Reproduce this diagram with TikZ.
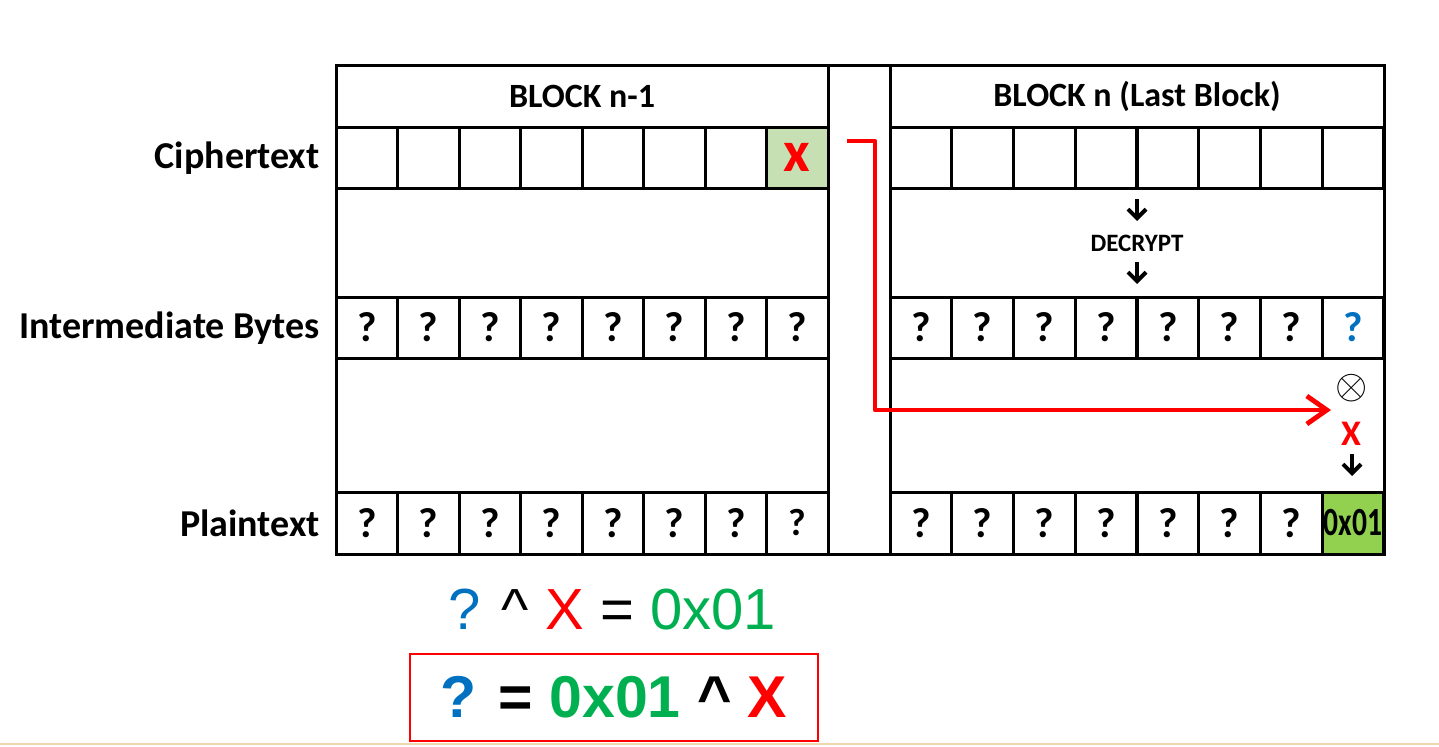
\documentclass[tikz,border=0pt]{standalone}
\usepackage{fontspec}
\setmainfont{Carlito}
\newfontfamily\arialfont{Liberation Sans}
\usetikzlibrary{arrows.meta,positioning}
\definecolor{qblue}{RGB}{0,112,192}
\definecolor{qgreen}{RGB}{0,176,80}
\definecolor{xred}{RGB}{255,0,0}
\definecolor{lightcell}{RGB}{198,224,180}
\definecolor{greencell}{RGB}{146,208,80}
\definecolor{edgeline}{RGB}{242,214,178}

\begin{document}
\begin{tikzpicture}[x=0.5pt, y=-0.5pt,
    cell/.style={rectangle, draw, line width=1.5pt, minimum width=30.75pt, minimum height=30.5pt, inner sep=0pt, font=\fontsize{21}{22}\selectfont\bfseries},
    rowlabel/.style={anchor=east, inner sep=0pt, font=\fontsize{19}{21}\selectfont\bfseries},
    header/.style={inner sep=0pt, font=\fontsize{17}{20}\selectfont\bfseries},
    downarrow/.style={line width=2pt, -{Straight Barb[length=4.5pt, width=9pt]}}]
    \useasboundingbox (0,0) rectangle (1439,746);

    % frame of both blocks and the gap column
    \draw[line width=1.5pt] (336,65) rectangle (1384,554);
    \draw[line width=1.5pt] (828,65) -- (828,554);
    \draw[line width=1.5pt] (890,65) -- (890,554);

    \node[header] (hdleft) at (582,96) {BLOCK n-1};
    \node[header] (hdright) at (1137,96) {BLOCK n (Last Block)};

    % block n-1
    \foreach \i in {1,...,7} {
        \node[cell] (cl\i) at ({336+61.5*(\i-0.5)},157.5) {};
        \node[cell] (il\i) at ({336+61.5*(\i-0.5)},327.5) {?};
        \node[cell, minimum height=31pt] (pl\i) at ({336+61.5*(\i-0.5)},523) {?};
    }
    \node[cell, fill=lightcell, text=xred, font=\fontsize{29}{29}\selectfont\bfseries] (cl8) at (797.25,157.5) {x};
    \node[cell] (il8) at (797.25,327.5) {?};
    \node[cell, minimum height=31pt, font=\fontsize{19}{20}\selectfont\bfseries] (pl8) at (797.25,523) {\raisebox{1pt}{?}};

    % block n
    \foreach \i in {1,...,8} {
        \node[cell] (cr\i) at ({890+61.75*(\i-0.5)},157.5) {};
    }
    \foreach \i in {1,...,7} {
        \node[cell] (ir\i) at ({890+61.75*(\i-0.5)},327.5) {?};
        \node[cell, minimum height=31pt] (pr\i) at ({890+61.75*(\i-0.5)},523) {?};
    }
    \node[cell, text=qblue] (ir8) at (1353.1,327.5) {?};
    \node[cell, minimum height=31pt, fill=greencell, font=\fontsize{20}{20}\selectfont\bfseries] (pr8) at (1353.1,523) {\scalebox{0.74}[1]{0x01}};

    % row labels
    \node[rowlabel] (lcipher) at (320,158) {Ciphertext};
    \node[rowlabel] (linter) at (320,328) {Intermediate Bytes};
    \node[rowlabel] (lplain) at (320,523) {Plaintext};

    % decrypt step
    \coordinate (dn1a) at (1137,199);
    \coordinate (dn1b) at (1137,221);
    \node[inner sep=0pt, font=\fontsize{12.5}{14}\selectfont\bfseries] (dec) at (1137,243) {DECRYPT};
    \coordinate (dn2a) at (1137,262);
    \coordinate (dn2b) at (1137,284);
    \draw[downarrow] (dn1a) -- (dn1b);
    \draw[downarrow] (dn2a) -- (dn2b);

    % xor step
    \node[inner sep=0pt, font=\fontsize{22}{22}\selectfont] (xor) at (1352,388) {$\otimes$};
    \node[inner sep=0pt, text=xred, font=\fontsize{18}{18}\selectfont\bfseries] (xval) at (1351,434) {X};
    \coordinate (dn3a) at (1352,454);
    \coordinate (dn3b) at (1352,476);
    \draw[downarrow] (dn3a) -- (dn3b);

    \coordinate (xs) at (847,141);
    \coordinate (bend) at (875,410);
    \coordinate (xe) at (1331,410);
    \draw[xred, line width=2.4pt, line join=round, -{Straight Barb[length=10pt, width=14pt]}] (xs) -| (bend) -- (xe);

    % equations
    \node[inner sep=0pt, font=\arialfont\fontsize{29}{30}\selectfont] (eqa) at (612,610)
        {\textcolor{qblue}{?} \textasciicircum{} \textcolor{xred}{X} = \textcolor{qgreen}{0x01}};
    \node[draw=xred, line width=0.75pt, minimum width=204pt, minimum height=43.5pt, inner sep=0pt,
        font=\arialfont\fontsize{29.5}{30}\selectfont\bfseries] (eqb) at (614,697.5)
        {\textcolor{qblue}{?} = \textcolor{qgreen}{0x01} \textasciicircum{} \textcolor{xred}{X}};

    \draw[edgeline, line width=0.75pt] (0,744) -- (1439,744);
\end{tikzpicture}
\end{document}
